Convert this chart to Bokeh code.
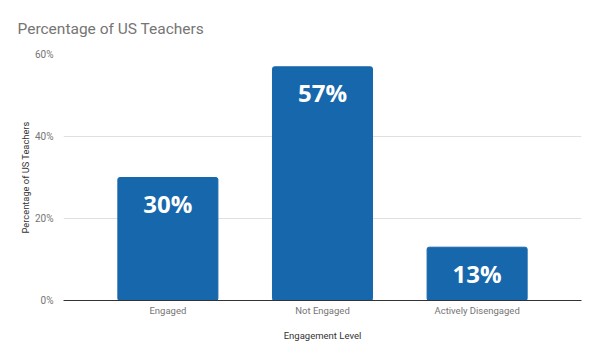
from bokeh.plotting import figure
from bokeh.models import ColumnDataSource, FactorRange, FixedTicker, Range1d, LabelSet
from bokeh.core.properties import value
from bokeh.embed import file_html
from bokeh.resources import INLINE

categories = ["Engaged", "Not Engaged", "Actively Disengaged"]
percentages = [30, 57, 13]
y_ticks = [0, 20, 40, 60]
y_tick_labels = {0: "0%", 20: "20%", 40: "40%", 60: "60%"}

src = ColumnDataSource(dict(cat=categories, val=percentages,
                            lbl=[f"{v}%" for v in percentages]))

p = figure(frame_width=518, frame_height=246, output_backend="svg", toolbar_location=None,
           x_range=FactorRange(*categories, range_padding=0.1167),
           y_range=Range1d(0, 60),
           min_border_left=63, min_border_right=10, min_border_top=54, min_border_bottom=43)

p.title.text = "Percentage of US Teachers"
p.title.text_font = "Roboto"
p.title.text_font_size = "15.5px"
p.title.text_font_style = "normal"
p.title.text_color = "#757575"
p.title.offset = -46
p.title.standoff = 34

p.vbar(x="cat", top="val", width=0.647, source=src, color="#1767AC",
       border_radius=2)

labels = LabelSet(x="cat", y="val", text="lbl", source=src, y_offset=-26,
                  text_align="center", text_baseline="middle",
                  text_color="white", text_font=value("Open Sans"),
                  text_font_style="bold", text_font_size="24px")
p.add_layout(labels)

p.outline_line_color = None
p.xgrid.grid_line_color = None
p.ygrid.grid_line_color = "#e0e0e0"
p.ygrid.ticker = FixedTicker(ticks=y_ticks)

p.yaxis.ticker = FixedTicker(ticks=y_ticks)
p.yaxis.major_label_overrides = y_tick_labels
p.yaxis.axis_line_color = None
p.yaxis.major_tick_line_color = None
p.yaxis.minor_tick_line_color = None
p.yaxis.major_label_text_font = "Roboto"
p.yaxis.major_label_text_font_size = "10px"
p.yaxis.major_label_text_color = "#757575"
p.yaxis.major_label_standoff = 4
p.yaxis.axis_label = "Percentage of US Teachers"
p.yaxis.axis_label_text_font = "Roboto"
p.yaxis.axis_label_text_font_size = "9.3px"
p.yaxis.axis_label_text_font_style = "normal"
p.yaxis.axis_label_text_color = "#333333"
p.yaxis.axis_label_standoff = 1

p.xaxis.axis_line_color = "#333333"
p.xaxis.major_tick_line_color = None
p.xaxis.minor_tick_line_color = None
p.xaxis.major_label_text_font = "Roboto"
p.xaxis.major_label_text_font_size = "9.5px"
p.xaxis.major_label_text_color = "#757575"
p.xaxis.major_label_standoff = -2
p.xaxis.axis_label = "Engagement Level"
p.xaxis.axis_label_text_font = "Roboto"
p.xaxis.axis_label_text_font_size = "9.5px"
p.xaxis.axis_label_text_font_style = "normal"
p.xaxis.axis_label_text_color = "#333333"
p.xaxis.axis_label_standoff = 11

open("out.html", "w").write(file_html(p, INLINE))
